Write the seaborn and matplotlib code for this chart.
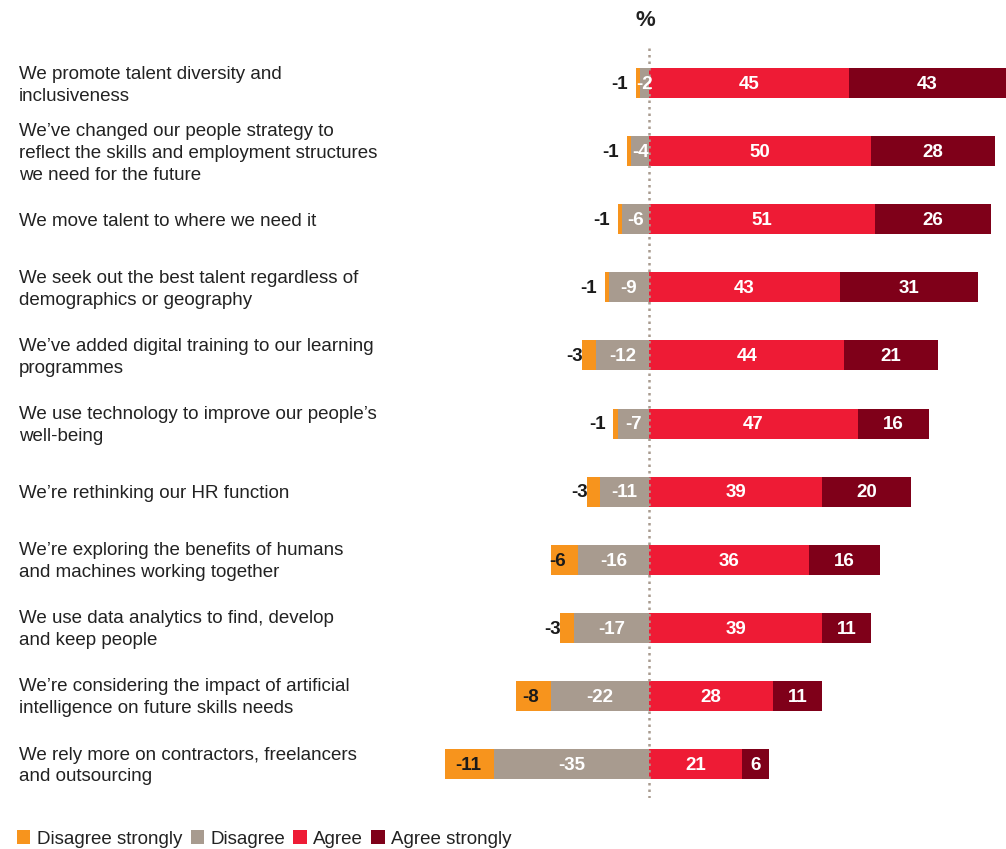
import matplotlib
matplotlib.use("Agg")
import matplotlib.pyplot as plt
import matplotlib.transforms as mtransforms
from matplotlib.patches import Patch
import seaborn as sns

# survey statements, top to bottom
statements = [
    "We promote talent diversity and\ninclusiveness",
    "We\u2019ve changed our people strategy to\nreflect the skills and employment structures\nwe need for the future",
    "We move talent to where we need it",
    "We seek out the best talent regardless of\ndemographics or geography",
    "We\u2019ve added digital training to our learning\nprogrammes",
    "We use technology to improve our people\u2019s\nwell-being",
    "We\u2019re rethinking our HR function",
    "We\u2019re exploring the benefits of humans\nand machines working together",
    "We use data analytics to find, develop\nand keep people",
    "We\u2019re considering the impact of artificial\nintelligence on future skills needs",
    "We rely more on contractors, freelancers\nand outsourcing",
]
disagree_strongly = [1, 1, 1, 1, 3, 1, 3, 6, 3, 8, 11]
disagree = [2, 4, 6, 9, 12, 7, 11, 16, 17, 22, 35]
agree = [45, 50, 51, 43, 44, 47, 39, 36, 39, 28, 21]
agree_strongly = [43, 28, 26, 31, 21, 16, 20, 16, 11, 11, 6]
legend_labels = ["Disagree strongly", "Disagree", "Agree", "Agree strongly"]

c_dis_strong = "#F7941D"
c_dis = "#A89B8F"
c_agree = "#EE1B35"
c_agree_strong = "#7F0019"

sns.set_style("white")
plt.rcParams["font.family"] = ["Liberation Sans", "DejaVu Sans"]

W, H = 1006, 849
fig = plt.figure(figsize=(W / 100, H / 100), dpi=100)
x0_px, zero_px, scale = 443, 649, 4.44
ax = fig.add_axes([x0_px / W, 1 - 798 / H, (W - x0_px) / W, (798 - 47) / H])

neg_total = [-(a + b) for a, b in zip(disagree_strongly, disagree)]
neg_dis = [-d for d in disagree]
pos_total = [a + b for a, b in zip(agree, agree_strongly)]

bw = 0.44
bar_kw = dict(orient="h", width=bw, saturation=1, linewidth=0, ax=ax)
# overlapping cumulative bars give the stacked look
sns.barplot(x=pos_total, y=statements, color=c_agree_strong, **bar_kw)
sns.barplot(x=agree, y=statements, color=c_agree, **bar_kw)
sns.barplot(x=neg_total, y=statements, color=c_dis_strong, **bar_kw)
sns.barplot(x=neg_dis, y=statements, color=c_dis, **bar_kw)

xmin = (x0_px - zero_px) / scale
xmax = (W - zero_px) / scale
ax.set_xlim(xmin, xmax)
ax.set_ylim(len(statements) - 0.5, -0.53)
ax.axvline(0, color=c_dis, lw=1.8, ls=(0, (1, 1.6)), zorder=5)
ax.set_xticks([])
ax.set_yticks([])
ax.set_xlabel("")
ax.set_ylabel("")
sns.despine(ax=ax, left=True, bottom=True)

fs = 13.5
for i in range(len(statements)):
    ds, d, a, s = disagree_strongly[i], disagree[i], agree[i], agree_strongly[i]
    yy = i + 0.02
    ax.text(-d / 2, yy, f"-{d}", ha="center", va="center", color="white",
            fontsize=fs, fontweight="bold", zorder=6)
    ax.text(-d - 2.8, yy, f"-{ds}", ha="right", va="center", color="#1a1a1a",
            fontsize=fs, fontweight="bold", zorder=6)
    ax.text(a / 2, yy, f"{a}", ha="center", va="center", color="white",
            fontsize=fs, fontweight="bold", zorder=6)
    right = min(a + s, xmax)
    ax.text((a + right) / 2, yy, f"{s}", ha="center", va="center", color="white",
            fontsize=fs, fontweight="bold", zorder=6)

trans = mtransforms.blended_transform_factory(fig.transFigure, ax.transData)
for i, lab in enumerate(statements):
    ax.text(19 / W, i + 0.03, lab, transform=trans, ha="left", va="center",
            fontsize=fs, color="#222222", linespacing=1.38)

fig.text(zero_px / W - 0.004, 1 - 20 / H, "%", ha="center", va="center",
         fontsize=16, fontweight="bold", color="#222222")

handles = [Patch(facecolor=c, edgecolor="none") for c in
           [c_dis_strong, c_dis, c_agree, c_agree_strong]]
fig.legend(handles, legend_labels, loc="center left",
           bbox_to_anchor=(17 / W, 1 - 839 / H), ncol=4, frameon=False,
           fontsize=fs, handlelength=0.7, handleheight=0.7,
           handletextpad=0.35, columnspacing=0.45, borderpad=0, borderaxespad=0,
           labelcolor="#222222")

fig.savefig("out.png", dpi=100)
